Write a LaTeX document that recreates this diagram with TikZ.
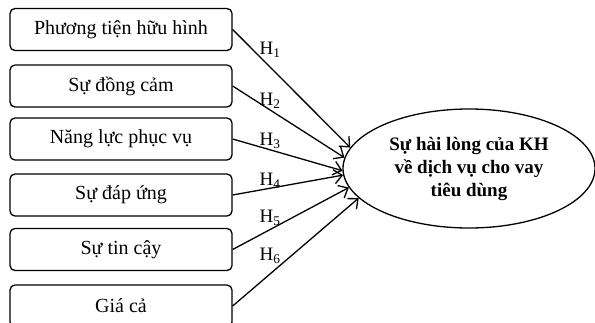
\documentclass[tikz,border=0pt]{standalone}
\usepackage{fontspec}
\setmainfont{Liberation Serif}
\usetikzlibrary{arrows.meta,shapes.geometric}
\begin{document}
\begin{tikzpicture}[x=1pt,y=1pt,
  factor/.style={draw, line width=1.3pt, rounded corners=5pt, minimum width=222pt, minimum height=42pt, inner sep=0pt, font=\fontsize{20}{24}\selectfont},
  link/.style={line width=1.3pt, -{Straight Barb[length=8pt,width=14pt,line width=1.3pt]}},
  hlab/.style={inner sep=0pt, font=\fontsize{19}{22}\selectfont},
  target/.style={draw, ellipse, line width=1.3pt, minimum width=252pt, minimum height=119pt, inner sep=0pt, align=center, font=\bfseries\fontsize{19}{23}\selectfont}]
\useasboundingbox (0,0) rectangle (595,-322);
\node[factor] (b1) at (121,-29.5) {Phương tiện hữu hình};
\node[factor] (b2) at (121,-86) {Sự đồng cảm};
\node[factor] (b3) at (121,-139) {Năng lực phục vụ};
\node[factor] (b4) at (121,-195) {Sự đáp ứng};
\node[factor] (b5) at (121,-249.5) {Sự tin cậy};
\node[factor] (b6) at (121,-306) {Giá cả};
\node[target] (e) at (469,-168.5) {Sự hài lòng của KH\\về dịch vụ cho vay\\tiêu dùng};
\draw[link] (b1.east) -- (e.170);
\draw[link] (b2.east) -- (e.175);
\draw[link] (b3.east) -- (e.181);
\draw[link] (b4.east) -- (e.183);
\draw[link] (b5.east) -- (e.189);
\draw[link] (b6.east) -- (e.195);
\node[hlab] (h1) at (270,-50) {H\textsubscript{1}};
\node[hlab] (h2) at (270,-101) {H\textsubscript{2}};
\node[hlab] (h3) at (270,-141) {H\textsubscript{3}};
\node[hlab] (h4) at (270,-181) {H\textsubscript{4}};
\node[hlab] (h5) at (270,-218) {H\textsubscript{5}};
\node[hlab] (h6) at (270,-256) {H\textsubscript{6}};
\end{tikzpicture}
\end{document}
